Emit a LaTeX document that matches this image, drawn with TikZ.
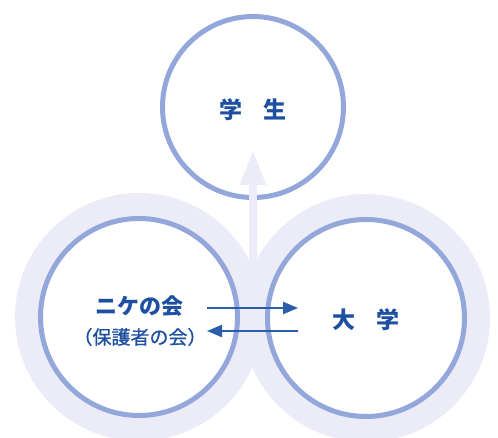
\documentclass[tikz,border=0pt]{standalone}
\usepackage{fontspec}
\newfontfamily\jp{Noto Sans CJK JP}
\newfontfamily\jpm{Noto Sans CJK JP}[FakeBold=0.8]
\usetikzlibrary{arrows.meta}
\definecolor{halo}{HTML}{ECECF8}
\definecolor{ring}{HTML}{93A7DB}
\definecolor{txtblue}{HTML}{1E50A2}
\definecolor{arrblue}{HTML}{2B5DAA}
\tikzset{
  halodisc/.style={circle, fill=halo, draw=none, minimum size=248pt, inner sep=0pt, outer sep=0pt},
  bigring/.style={circle, fill=white, draw=ring, line width=5pt, minimum size=197pt, inner sep=0pt, outer sep=0pt},
  topring/.style={circle, fill=white, draw=ring, line width=5pt, minimum size=181pt, inner sep=0pt, outer sep=0pt},
  label/.style={text=txtblue, inner sep=0pt},
  flow/.style={draw=arrblue, line width=2.2pt, -{Triangle[length=15pt,width=12pt]}},
  uparrow/.style={draw=halo, line width=8pt, -{Triangle[length=35pt,width=24pt]}}
}
\begin{document}
\begin{tikzpicture}[x=1pt,y=-1pt]
\useasboundingbox (0,0) rectangle (498,438);
% halos
\node[halodisc] (lhalo) at (139,317) {};
\node[halodisc] (rhalo) at (366,318) {};
% rings
\node[bigring] (nike) at (139,317) {};
\node[bigring] (univ) at (366,318) {};
\node[topring] (student) at (253,107) {};
% light up arrow
\coordinate (upstart) at (253,272);
\coordinate (upend) at (253,150);
\draw[uparrow] (upstart) -- (upend);
% texts
\node[label, font=\jp\bfseries\fontsize{23}{23}\selectfont] (tstudent) at (253,110) {学\hspace{0.95em}生};
\node[label, font=\jp\bfseries\fontsize{23}{23}\selectfont] (tuniv) at (366,320) {大\hspace{0.95em}学};
\node[label, font=\jp\bfseries\fontsize{22}{22}\selectfont] (tnike) at (139,306) {ニケの会};
\node[label, font=\jpm\fontsize{19}{19}\selectfont] (tnike2) at (140,337) {（保護者の会）};
% flow arrows
\coordinate (a1) at (207,308);
\coordinate (a2) at (298,308);
\coordinate (b1) at (298,331);
\coordinate (b2) at (207,331);
\draw[flow] (a1) -- (a2);
\draw[flow] (b1) -- (b2);
\end{tikzpicture}
\end{document}
